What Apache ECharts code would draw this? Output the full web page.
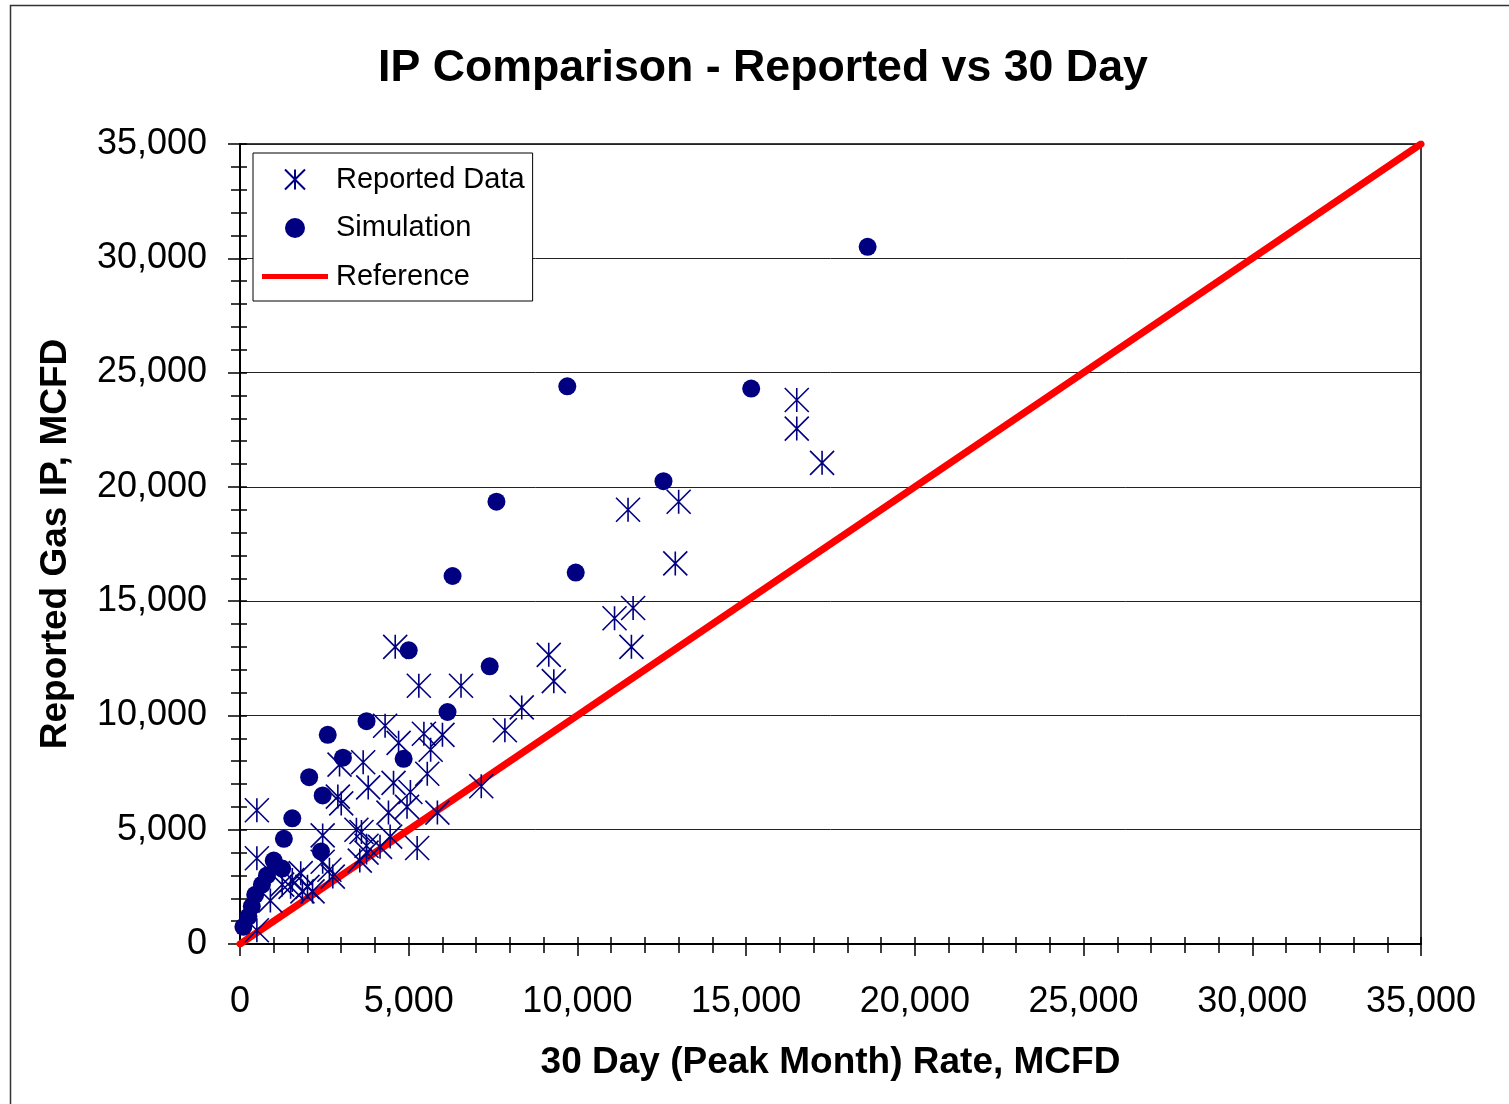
<!DOCTYPE html>
<html>
<head>
<meta charset="utf-8">
<title>IP Comparison - Reported vs 30 Day</title>
<script src="https://cdn.jsdelivr.net/npm/echarts@6/dist/echarts.min.js"></script>
<style>
  html, body { margin: 0; padding: 0; background: #fff; }
  #chart { width: 1509px; height: 1104px; }
</style>
</head>
<body>
<div id="chart"></div>
<script>
// reported IP vs 30 day rate (MCFD)
const reportedX = [16500, 16500, 17250, 13000, 11500, 12900, 11650, 11100, 11600, 9150,
  9300, 8350, 7850, 7150, 4600, 5300, 6550, 4300, 5450, 6000,
  4700, 5650, 3650, 3800, 4550, 5050, 5550, 2900, 3000, 4950,
  4400, 5850, 3450, 3600, 2450, 3750, 4150, 5250, 4450, 3550,
  3750, 2450, 2650, 1800, 1500, 2000, 1850, 2150, 900, 1250,
  1550, 500, 500, 500, 2750, 2950]
const reportedY = [23800, 22550, 21050, 19350, 19000, 16650, 14700, 14250, 13000, 12650,
  11500, 10350, 9350, 6900, 13000, 11300, 11300, 9550, 9200, 9150,
  8800, 8500, 7950, 6850, 7050, 6650, 7450, 6450, 6150, 6000,
  5750, 5750, 5000, 4900, 4750, 4300, 4250, 4200, 4700, 3650,
  4000, 3600, 3250, 3100, 2500, 2500, 2300, 2300, 1900, 2600,
  2800, 3750, 5850, 600, 2950, 7850]

const simX = [18600, 9700, 15150, 12550, 7600, 6300, 9950, 5000, 7400, 6150,
  3750, 2600, 3050, 4850, 2050, 2450, 1550, 1300, 2400, 1000,
  1250, 800, 650, 450, 350, 250, 100]
const simY = [30500, 24400, 24300, 20250, 19350, 16100, 16250, 12850, 12150, 10150,
  9750, 9150, 8150, 8100, 7300, 6500, 5500, 4600, 4050, 3650,
  3300, 3000, 2600, 2150, 1650, 1200, 750]

// 1:1 reference line
const refX = [0, 35000]
const refY = [0, 35000]

const FONT = '"Liberation Sans", Arial, sans-serif'
const fmt = v => v.toLocaleString('en-US')
const zip = (a, b) => a.map((v, i) => [v, b[i]])

const ASTERISK = 'path://M0,0L20,20M20,0L0,20M10,0L10,20'

const chart = echarts.init(document.getElementById('chart'))

// main axis (outer ticks + labels) and a twin axis for the inner half of the ticks
const mainAxis = (pos, extra) => Object.assign({
  type: 'value',
  position: pos,
  min: 0,
  max: 35000,
  interval: 5000,
  axisLine: { show: true, onZero: false, lineStyle: { color: '#000', width: 2 } },
  axisTick: { show: true, length: 12, lineStyle: { color: '#000', width: 1.5 } },
  minorTick: { show: true, splitNumber: 5, length: 9, lineStyle: { color: '#000', width: 1.5 } },
  nameLocation: 'middle',
  nameTextStyle: { color: '#000', fontSize: 37, fontWeight: 'bold', fontFamily: FONT }
}, extra)

const innerAxis = pos => ({
  type: 'value',
  position: pos,
  min: 0,
  max: 35000,
  interval: 5000,
  axisLine: { show: false, onZero: false },
  axisTick: { show: true, inside: true, length: 7, lineStyle: { color: '#000', width: 1.5 } },
  minorTick: { show: true, splitNumber: 5, length: 7, lineStyle: { color: '#000', width: 1.5 } },
  axisLabel: { show: false },
  splitLine: { show: false }
})

chart.setOption({
  backgroundColor: '#fff',
  animation: false,
  title: {
    text: 'IP Comparison - Reported vs 30 Day',
    left: 378,
    top: 46,
    padding: 0,
    textStyle: { color: '#000', fontSize: 44.7, fontWeight: 'bold', fontFamily: FONT }
  },
  graphic: [{
    type: 'rect',
    silent: true,
    shape: { x: 10.5, y: 5.5, width: 1600, height: 1200 },
    style: { fill: 'none', stroke: '#333', lineWidth: 1.5 }
  }],
  grid: {
    left: 240,
    top: 144,
    right: 88,
    bottom: 160,
    show: true,
    borderColor: '#000',
    borderWidth: 1.5
  },
  legend: {
    orient: 'vertical',
    left: 253,
    top: 153,
    padding: [12, 8, 10, 9],
    itemGap: 19.5,
    itemWidth: 66,
    itemHeight: 20,
    borderColor: '#000',
    borderWidth: 1,
    backgroundColor: '#fff',
    selectedMode: false,
    textStyle: { color: '#000', fontSize: 29, fontFamily: FONT, padding: [0, 0, 0, 3] },
    data: [
      'Reported Data',
      'Simulation',
      { name: 'Reference', icon: 'path://M0,0L66,0L66,5L0,5Z', itemStyle: { color: '#ff0000' } }
    ]
  },
  xAxis: [
    mainAxis('bottom', {
      name: '30 Day (Peak Month) Rate, MCFD',
      nameGap: 100,
      axisLabel: { color: '#000', fontSize: 36, fontFamily: FONT, formatter: fmt, margin: 40 },
      splitLine: { show: false }
    }),
    innerAxis('bottom')
  ],
  yAxis: [
    mainAxis('left', {
      name: 'Reported Gas IP, MCFD',
      nameGap: 166,
      nameRotate: 90,
      axisLabel: { color: '#000', fontSize: 36, fontFamily: FONT, formatter: fmt, margin: 33 },
      splitLine: { show: true, showMinLine: false, lineStyle: { color: '#222', width: 1 } }
    }),
    innerAxis('left')
  ],
  series: [
    {
      name: 'Reference',
      type: 'line',
      z: 1,
      xAxisIndex: 0,
      yAxisIndex: 0,
      data: zip(refX, refY),
      symbol: 'none',
      itemStyle: { color: '#ff0000' },
      lineStyle: { color: '#ff0000', width: 7, cap: 'round' }
    },
    {
      name: 'Reported Data',
      type: 'scatter',
      xAxisIndex: 0,
      yAxisIndex: 0,
      data: zip(reportedX, reportedY),
      symbol: ASTERISK,
      symbolSize: 24,
      itemStyle: { color: 'rgba(0,0,0,0)', borderColor: '#000080', borderWidth: 1.6, opacity: 1 }
    },
    {
      name: 'Simulation',
      type: 'scatter',
      xAxisIndex: 0,
      yAxisIndex: 0,
      data: zip(simX, simY),
      symbol: 'circle',
      symbolSize: 18,
      itemStyle: { color: '#000080', opacity: 1 }
    }
  ]
})

window.addEventListener('resize', () => chart.resize())
</script>
</body>
</html>
